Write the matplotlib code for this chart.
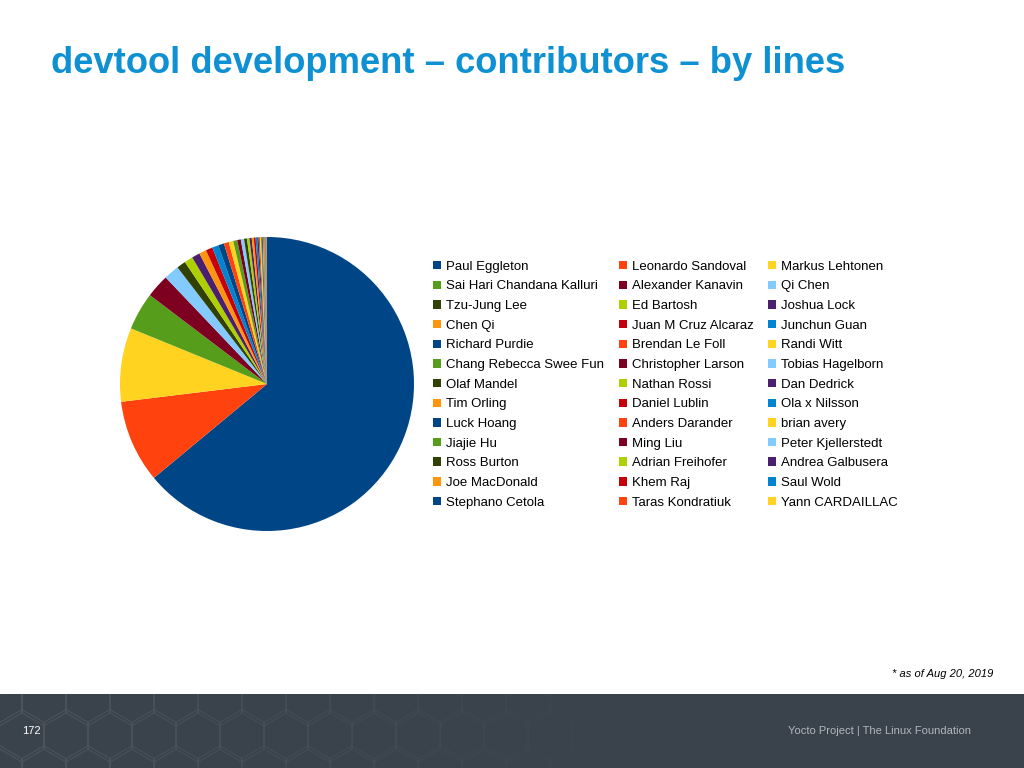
import matplotlib.pyplot as plt
from matplotlib.patches import Patch, RegularPolygon
import numpy as np

names = ["Paul Eggleton", "Leonardo Sandoval", "Markus Lehtonen",
         "Sai Hari Chandana Kalluri", "Alexander Kanavin", "Qi Chen",
         "Tzu-Jung Lee", "Ed Bartosh", "Joshua Lock",
         "Chen Qi", "Juan M Cruz Alcaraz", "Junchun Guan",
         "Richard Purdie", "Brendan Le Foll", "Randi Witt",
         "Chang Rebecca Swee Fun", "Christopher Larson", "Tobias Hagelborn",
         "Olaf Mandel", "Nathan Rossi", "Dan Dedrick",
         "Tim Orling", "Daniel Lublin", "Ola x Nilsson",
         "Luck Hoang", "Anders Darander", "brian avery",
         "Jiajie Hu", "Ming Liu", "Peter Kjellerstedt",
         "Ross Burton", "Adrian Freihofer", "Andrea Galbusera",
         "Joe MacDonald", "Khem Raj", "Saul Wold",
         "Stephano Cetola", "Taras Kondratiuk", "Yann CARDAILLAC"]
lines = [6470, 920, 820, 420, 260, 170,
         100, 95, 90, 80, 75, 70,
         65, 55, 50, 45, 40, 36,
         32, 28, 25, 22, 20, 18,
         16, 14, 12, 10, 9, 8,
         7, 6, 5, 5, 4, 4,
         3, 3, 2]
palette = ["#004586", "#ff420e", "#ffd320", "#579d1c", "#7e0021", "#83caff",
           "#314004", "#aecf00", "#4b1f6f", "#ff950e", "#c5000b", "#0084d1"]
colors = [palette[i % 12] for i in range(len(names))]

fig = plt.figure(figsize=(10.24, 7.68), dpi=100)
fig.text(0.05, 0.917, "devtool development – contributors – by lines", color="#0e90d2",
         fontsize=26.2, fontweight="bold", family="Liberation Sans", va="center")

ax = fig.add_axes([120 / 1024, 237 / 768, 294 / 1024, 294 / 768])
ax.pie(lines, colors=colors, startangle=90, counterclock=False)
ax.set_xlim(-1, 1)
ax.set_ylim(-1, 1)
ax.set_aspect("equal")

# legend is row-major with 3 columns
ncol = 3
nrow = int(np.ceil(len(names) / ncol))
order = [r * ncol + c for c in range(ncol) for r in range(nrow) if r * ncol + c < len(names)]
handles = [Patch(facecolor=colors[i], label=names[i]) for i in order]
fig.legend(handles=handles, ncol=ncol, loc="upper left", bbox_to_anchor=(0.4165, 0.669),
           frameon=False, handlelength=0.6, handleheight=0.6, borderpad=0,
           handletextpad=0.4, columnspacing=1.1, labelspacing=0.58,
           prop={"family": "Liberation Sans", "size": 9.5})

fig.text(0.97, 0.118, "* as of Aug 20, 2019", ha="right", fontsize=8, style="italic",
         family="Liberation Sans")

# footer bar
fax = fig.add_axes([0, 0, 1, 0.097])
fax.set_xlim(0, 1024)
fax.set_ylim(0, 74)
fax.axis("off")
fax.add_patch(plt.Rectangle((0, 0), 1024, 74, color="#3a434c"))
for i in range(14):
    for j in range(3):
        x = i * 44 + (22 if j % 2 else 0)
        fax.add_patch(RegularPolygon((x, j * 36 - 4), 6, radius=26,
                                     fill=False, ec="#4b545d", lw=0.8, alpha=max(0.1, 1 - i / 14)))
fax.text(22, 37, "172", color="white", fontsize=8, va="center", family="Liberation Sans")
fax.text(971, 37, "Yocto Project | The Linux Foundation", color="#b0b6bc", fontsize=8,
         va="center", ha="right", family="Liberation Sans")

fig.savefig("out.png", dpi=100)
